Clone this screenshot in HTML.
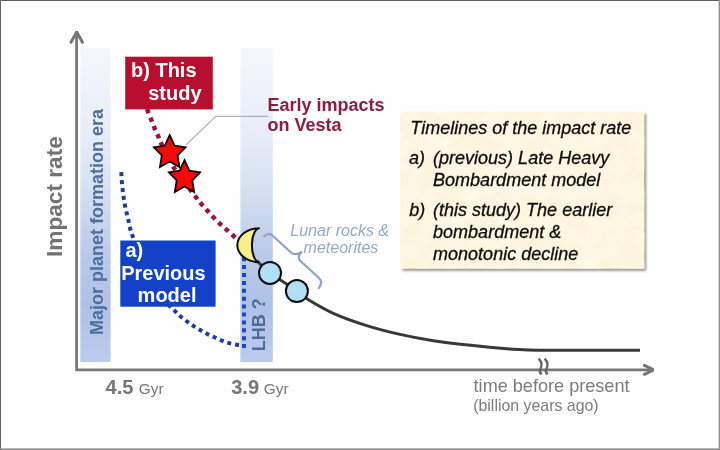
<!DOCTYPE html>
<html lang="en">
<head>
<meta charset="utf-8">
<title>Timelines of the impact rate</title>
<style>
html,body{margin:0;padding:0;background:#fff;}
body{width:720px;height:450px;overflow:hidden;position:relative;}
svg{display:block;position:absolute;left:0;top:0;}
text{font-family:"Liberation Sans",Arial,Helvetica,sans-serif;}
.b{font-weight:bold;}
.i{font-style:italic;}
</style>
</head>
<body>
<svg width="720" height="450" viewBox="0 0 720 450">
<defs>
<linearGradient id="band" x1="0" y1="0" x2="0" y2="1">
<stop offset="0" stop-color="#f5f7fb"/>
<stop offset="0.28" stop-color="#e7ecf8"/>
<stop offset="0.46" stop-color="#d4e0f1"/>
<stop offset="0.66" stop-color="#b9c9e9"/>
<stop offset="0.82" stop-color="#aec2e6"/>
<stop offset="1" stop-color="#bbccec"/>
</linearGradient>
<filter id="sh" color-interpolation-filters="sRGB" x="-5%" y="-5%" width="112%" height="112%">
<feGaussianBlur in="SourceAlpha" stdDeviation="0.8"/>
<feOffset dx="2.2" dy="2.2"/>
<feColorMatrix type="matrix" values="0 0 0 0 0.5  0 0 0 0 0.5  0 0 0 0 0.46  0 0 0 0.8 0"/>
<feMerge><feMergeNode/><feMergeNode in="SourceGraphic"/></feMerge>
</filter>
<filter id="paper" color-interpolation-filters="sRGB" x="0" y="0" width="100%" height="100%">
<feTurbulence type="fractalNoise" baseFrequency="0.05 0.06" numOctaves="3" seed="7"/>
<feColorMatrix type="matrix" values="0 0 0 0 1  0 0 0 0 0.985  0 0 0 0 0.93  1.3 0 0 0 -0.4"/>
</filter>
<filter id="soft" color-interpolation-filters="sRGB" x="0" y="0" width="100%" height="100%"><feGaussianBlur stdDeviation="0.45"/></filter>
</defs>
<rect x="0" y="0" width="720" height="450" fill="#fefefe"/>
<g filter="url(#soft)">
<!-- bands -->
<rect x="80.3" y="48" width="30.3" height="314" fill="url(#band)"/>
<rect x="240.4" y="48" width="32.4" height="314" fill="url(#band)"/>
<!-- axes -->
<path d="M76.6,33 V369.8 H653" fill="none" stroke="#787878" stroke-width="2.8"/>
<path d="M71,42.3 L76.7,31.9 L82.4,42.3" fill="none" stroke="#767676" stroke-width="3" stroke-linecap="round" stroke-linejoin="miter"/>
<path d="M644.4,365.3 L653.8,369.8 L644.4,374.3" fill="none" stroke="#767676" stroke-width="3" stroke-linecap="round" stroke-linejoin="miter"/>
<!-- axis break -->
<path d="M538.6,358.6 C542.5,362.5 542,366 540.4,369 C539.2,371.3 540,373 541.8,374.2" fill="none" stroke="#666" stroke-width="2.5"/>
<path d="M544.6,358.6 C548.5,362.5 548,366 546.4,369 C545.2,371.3 546,373 547.8,374.2" fill="none" stroke="#666" stroke-width="2.5"/>
<!-- rotated labels -->
<text class="b" transform="translate(62.4,257) rotate(-90)" font-size="22.65" fill="#727272">Impact rate</text>
<text class="b" transform="translate(102.9,335) rotate(-90)" font-size="18" fill="#4e6e9b">Major planet formation era</text>
<text class="b" transform="translate(265.4,351.3) rotate(-90)" font-size="18" fill="#4e6c98">LHB ?</text>
<!-- blue dotted -->
<path d="M121.20,170.50 C121.27,171.70 121.28,172.15 121.40,174.10 C121.52,176.05 121.68,179.55 121.90,182.20 C122.12,184.85 122.40,187.37 122.70,190.00 C123.00,192.63 123.32,195.40 123.70,198.00 C124.08,200.60 124.50,203.05 125.00,205.60 C125.50,208.15 126.10,210.72 126.70,213.30 C127.30,215.88 128.02,218.53 128.60,221.10 C129.18,223.67 129.53,226.20 130.20,228.70 C130.87,231.20 130.97,231.22 132.60,236.10 C134.23,240.98 137.10,250.68 140.00,258.00 C142.90,265.32 146.67,272.67 150.00,280.00" fill="none" stroke="#1f3c9a" stroke-width="4" stroke-dasharray="4.0 3.90" stroke-dashoffset="6.15"/>
<path d="M150.00,280.00 C153.67,285.67 156.83,291.82 161.00,297.00 C165.17,302.18 171.68,307.82 175.00,311.10 C178.32,314.38 178.87,314.93 180.90,316.70 C182.93,318.47 185.07,320.13 187.20,321.70 C189.33,323.27 191.47,324.68 193.70,326.10 C195.93,327.52 198.32,328.88 200.60,330.20 C202.88,331.52 205.08,332.82 207.40,334.00 C209.72,335.18 212.08,336.20 214.50,337.30 C216.92,338.40 219.45,339.63 221.90,340.60 C224.35,341.57 226.68,342.40 229.20,343.10 C231.72,343.80 234.55,344.30 237.00,344.80 C239.45,345.30 241.60,345.67 243.90,346.10" fill="none" stroke="#1f3c9a" stroke-width="4" stroke-dasharray="4.0 3.90" stroke-dashoffset="1.03"/>
<path d="M244,348.1 V256" fill="none" stroke="#1d45c4" stroke-width="4" stroke-dasharray="4 3.9"/>
<!-- red dotted -->
<path d="M146.50,107.00 C146.93,108.37 147.03,109.03 147.80,111.10 C148.57,113.17 150.00,116.62 151.10,119.40 C152.20,122.18 153.23,125.05 154.40,127.80 C155.57,130.55 156.98,133.32 158.10,135.90 C159.22,138.48 158.47,137.98 161.10,143.30 C163.73,148.62 168.07,158.78 173.90,167.80 C179.73,176.82 191.47,191.30 196.10,197.40 C200.73,203.50 199.75,202.12 201.70,204.40 C203.65,206.68 205.77,208.87 207.80,211.10 C209.83,213.33 211.77,215.60 213.90,217.80 C216.03,220.00 218.40,222.25 220.60,224.30 C222.80,226.35 224.88,228.12 227.10,230.10 C229.32,232.08 231.92,234.45 233.90,236.20 C235.88,237.95 237.30,239.13 239.00,240.60" fill="none" stroke="#9b1242" stroke-width="4.5" stroke-dasharray="4.5 4.50" stroke-dashoffset="6.70"/>
<!-- callout line -->
<path d="M268.2,116.3 H215.8 L186.3,144.6" fill="none" stroke="#b3aeb1" stroke-width="1.3"/>
<!-- black curve -->
<path d="M257.00,261.00 C261.33,264.97 263.33,267.90 270.00,272.90 C276.67,277.90 290.52,286.48 297.00,291.00 C303.48,295.52 302.85,296.28 308.90,300.00 C314.95,303.72 323.67,309.03 333.30,313.30 C342.93,317.57 355.58,322.08 366.70,325.60 C377.82,329.12 388.90,331.88 400.00,334.40 C411.10,336.92 421.08,338.83 433.30,340.70 C445.52,342.57 461.07,344.27 473.30,345.60 C485.53,346.93 497.43,347.97 506.70,348.70 C515.97,349.43 520.02,349.73 528.90,350.00 C537.78,350.27 548.15,350.25 560.00,350.30 C571.85,350.35 586.67,350.30 600.00,350.30 C613.33,350.30 626.67,350.30 640.00,350.30" fill="none" stroke="#383838" stroke-width="3"/>
<!-- boxes -->
<rect x="125.2" y="56.7" width="87.6" height="52.7" fill="#b90f2e"/>
<rect x="120.3" y="240.5" width="95.3" height="66.2" fill="#1342c9"/>
<!-- stars -->
<polygon points="169.70,135.10 174.58,145.58 185.49,147.26 177.59,155.42 179.46,166.94 169.70,161.50 159.94,166.94 161.81,155.42 153.91,147.26 164.82,145.58" fill="#f80909" stroke="#140000" stroke-width="1.8" stroke-linejoin="miter"/>
<polygon points="184.50,160.10 189.32,170.58 200.10,172.26 192.30,180.42 194.14,191.94 184.50,186.50 174.86,191.94 176.70,180.42 168.90,172.26 179.68,170.58" fill="#f80909" stroke="#140000" stroke-width="1.8" stroke-linejoin="miter"/>
<!-- moon -->
<path d="M259.7,228.2 A22,16.9 0 0 0 259.2,262.2 A7.5,16.9 0 0 1 259.7,228.2 Z" fill="#f9ee88" stroke="#0a0a0a" stroke-width="2" stroke-linejoin="miter"/>
<!-- circles -->
<circle cx="270" cy="272.9" r="11" fill="#b3dff6" stroke="#0c0c0c" stroke-width="2"/>
<circle cx="296.9" cy="291.1" r="11" fill="#b3dff6" stroke="#0c0c0c" stroke-width="2"/>
<!-- brace -->
<path d="M263.5,236.8 C266,234 270,233 273,236 L290.5,252 C294,255.5 298,254.5 302,251.7 C298.5,255 297.5,258 300.5,261 L319,278 C322.5,281.5 321.5,285 318.3,288.9" fill="none" stroke="#8fa2c6" stroke-width="2.2"/>
<!-- legend box -->
<rect x="400.4" y="111.8" width="243.8" height="157" fill="#fcf4dc" filter="url(#sh)"/>
<rect x="400.4" y="111.8" width="243.8" height="157" fill="#fff" filter="url(#paper)"/>
<!-- texts -->
<text class="b" font-size="20" fill="#fff"><tspan x="131" y="77.2">b) This</tspan><tspan x="148.2" y="99.7">study</tspan></text>
<text class="b" font-size="20" fill="#fff"><tspan x="125.5" y="257.4">a)</tspan><tspan x="121.2" y="279.9">Previous</tspan><tspan x="137.6" y="301.7">model</tspan></text>
<text class="b" font-size="18" fill="#8e1b40"><tspan x="267.5" y="111.2">Early impacts</tspan><tspan x="267.5" y="130.6">on Vesta</tspan></text>
<text class="i" font-size="16" fill="#94a9ca"><tspan x="290.3" y="236.4">Lunar rocks &amp;</tspan><tspan x="303.6" y="253.2">meteorites</tspan></text>
<text class="i" font-size="18" fill="#0c0c0c" stroke="#0c0c0c" stroke-width="0.3"><tspan x="410.3" y="133.6">Timelines of the impact rate</tspan><tspan x="409" y="164.4">a)</tspan><tspan x="433.1" y="164.4">(previous) Late Heavy</tspan><tspan x="433.1" y="185.8">Bombardment model</tspan><tspan x="409.2" y="216">b)</tspan><tspan x="433.1" y="216">(this study) The earlier</tspan><tspan x="433.1" y="238">bombardment &amp;</tspan><tspan x="433.1" y="260.3">monotonic decline</tspan></text>
<text font-size="18.1" fill="#7c7c7c" x="473.6" y="391.8">time before present</text>
<text font-size="15.9" fill="#7c7c7c" x="473.2" y="411.3">(billion years ago)</text>
<text fill="#767676"><tspan class="b" font-size="20.1" x="105.6" y="394.2">4.5</tspan><tspan font-size="15.4" x="138.8" y="394.2">Gyr</tspan></text>
<text fill="#767676"><tspan class="b" font-size="20.1" x="231.2" y="394.2">3.9</tspan><tspan font-size="15.4" x="263.8" y="394.2">Gyr</tspan></text>
</g>
<!-- frame -->
<rect x="0" y="0" width="720" height="1" fill="#5c5c5c"/>
<rect x="0" y="0" width="1" height="450" fill="#626262"/>
<rect x="718.7" y="0" width="1.3" height="450" fill="#8c8c8c"/>
<rect x="0" y="448.4" width="720" height="1.6" fill="#8e8e8e"/>
</svg>
</body>
</html>
